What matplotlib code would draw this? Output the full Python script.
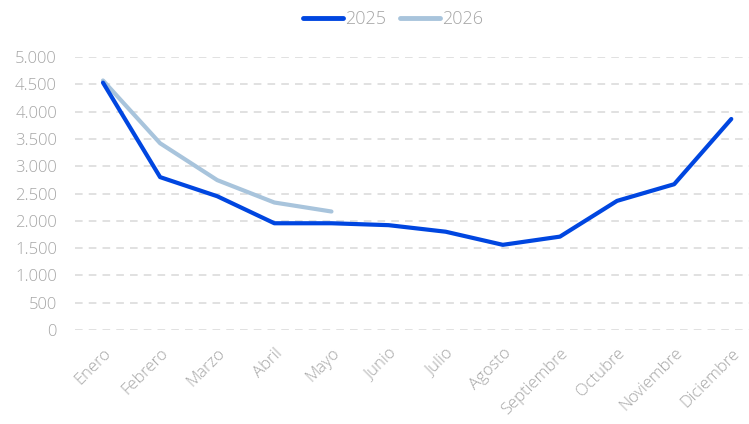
import matplotlib.pyplot as plt
from matplotlib.ticker import FuncFormatter

# datos
meses = ['Enero', 'Febrero', 'Marzo', 'Abril', 'Mayo', 'Junio', 'Julio',
         'Agosto', 'Septiembre', 'Octubre', 'Noviembre', 'Diciembre']
valores_2025 = [4530, 2800, 2450, 1955, 1955, 1920, 1800, 1560, 1710, 2365, 2670, 3865]
valores_2026 = [4570, 3420, 2745, 2335, 2170]

color_2025 = '#0046E0'
color_2026 = '#A8C4DC'
gris = '#A6A6A6'

plt.rcParams['font.family'] = ['Open Sans', 'DejaVu Sans']

fig = plt.figure(figsize=(7.49, 4.24), dpi=100, facecolor='white')
ax = fig.add_axes([75 / 749, 94 / 424, 1 - 75 / 749, 273 / 424], frameon=False)

x25 = list(range(len(valores_2025)))
x26 = list(range(len(valores_2026)))
ax.plot(x25, valores_2025, color=color_2025, lw=3, label='2025',
        solid_capstyle='round', solid_joinstyle='round', clip_on=False, zorder=3)
ax.plot(x26, valores_2026, color=color_2026, lw=3, label='2026',
        solid_capstyle='round', solid_joinstyle='round', clip_on=False, zorder=2)

ax.set_xlim(-0.49, 11.31)
ax.set_ylim(0, 5000)
ax.set_yticks(range(0, 5001, 500))
ax.yaxis.set_major_formatter(FuncFormatter(lambda v, p: f'{int(v):,}'.replace(',', '.')))
ax.set_xticks(x25)
ax.set_xticklabels(meses, rotation=45, ha='right', rotation_mode='anchor')

ax.grid(axis='y', color='#D9D9D9', linestyle=(0, (5, 4)), lw=1.1)
ax.tick_params(axis='both', length=0, labelcolor=gris, labelsize=12)
ax.tick_params(axis='x', pad=11)
ax.tick_params(axis='y', pad=13)
for lab in ax.get_xticklabels() + ax.get_yticklabels():
    lab.set_fontweight('light')

leg = fig.legend(loc='center', bbox_to_anchor=(393 / 749, 1 - 19 / 424), ncol=2,
                 frameon=False, fontsize=13, handlelength=2.2, handletextpad=0.1,
                 columnspacing=0.8, labelcolor=gris)
for t in leg.get_texts():
    t.set_fontweight('light')
for h in leg.get_lines():
    h.set_linewidth(3.5)

fig.savefig('out.png', dpi=100, facecolor='white')
